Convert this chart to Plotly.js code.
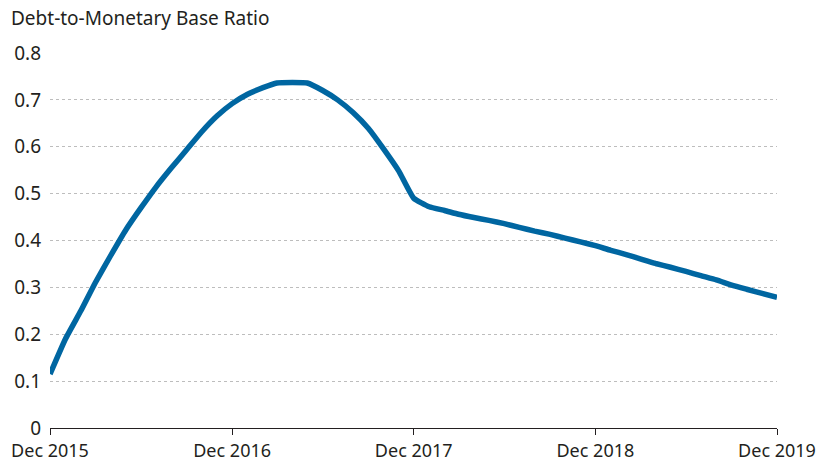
<!DOCTYPE html>
<html>
<head>
<meta charset="utf-8">
<script src="https://cdn.plot.ly/plotly-3.0.1.min.js"></script>
<style>html,body{margin:0;padding:0;background:#fff;}#chart{width:822px;height:461px;}</style>
</head>
<body>
<div id="chart"></div>
<script>
var months = [
  '2015-12-01','2016-01-01','2016-02-01','2016-03-01','2016-04-01','2016-05-01','2016-06-01',
  '2016-07-01','2016-08-01','2016-09-01','2016-10-01','2016-11-01','2016-12-01',
  '2017-01-01','2017-02-01','2017-03-01','2017-04-01','2017-05-01','2017-06-01',
  '2017-07-01','2017-08-01','2017-09-01','2017-10-01','2017-11-01','2017-12-01',
  '2018-01-01','2018-02-01','2018-03-01','2018-04-01','2018-05-01','2018-06-01',
  '2018-07-01','2018-08-01','2018-09-01','2018-10-01','2018-11-01','2018-12-01',
  '2019-01-01','2019-02-01','2019-03-01','2019-04-01','2019-05-01','2019-06-01',
  '2019-07-01','2019-08-01','2019-09-01','2019-10-01','2019-11-01','2019-12-01'
];
var ratio = [
  0.115, 0.190, 0.250, 0.310, 0.368, 0.422, 0.470,
  0.514, 0.555, 0.594, 0.632, 0.666, 0.692,
  0.712, 0.726, 0.736, 0.737, 0.736, 0.720,
  0.700, 0.673, 0.639, 0.596, 0.548, 0.490,
  0.472, 0.464, 0.456, 0.449, 0.443, 0.436,
  0.428, 0.420, 0.413, 0.405, 0.397, 0.389,
  0.379, 0.370, 0.361, 0.351, 0.343, 0.334,
  0.325, 0.316, 0.305, 0.296, 0.287, 0.279
];
var xTickVals = ['2015-12-01','2016-12-01','2017-12-01','2018-12-01','2019-12-01'];
var xTickText = ['Dec 2015','Dec 2016','Dec 2017','Dec 2018','Dec 2019'];
var yTickVals = [0, 0.1, 0.2, 0.3, 0.4, 0.5, 0.6, 0.7, 0.8];
var yTickText = ['0','0.1','0.2','0.3','0.4','0.5','0.6','0.7','0.8'];

var trace = {
  x: months, y: ratio, type: 'scatter', mode: 'lines',
  line: {color: '#0066a1', width: 5.5, shape: 'spline', smoothing: 0.4},
  cliponaxis: false, hoverinfo: 'skip'
};
var font = {family: 'Noto Sans, Open Sans, sans-serif', size: 19, color: '#231f20'};
var xfont = {family: font.family, size: 18, color: '#231f20'};
var layout = {
  width: 822, height: 461,
  margin: {l: 50, r: 45, t: 53, b: 33},
  paper_bgcolor: '#fff', plot_bgcolor: '#fff',
  showlegend: false,
  font: font,
  title: {
    text: 'Debt-to-Monetary Base Ratio',
    xref: 'container', yref: 'container',
    x: 11/822, xanchor: 'left', y: 1 - 18/461, yanchor: 'middle',
    font: {family: font.family, size: 19, color: '#231f20'}
  },
  xaxis: {
    type: 'date', range: ['2015-12-01', '2019-12-01'],
    tickvals: xTickVals, ticktext: xTickText,
    showgrid: false, zeroline: false,
    showline: true, linecolor: '#231f20', linewidth: 1,
    ticks: 'outside', ticklen: 6, tickcolor: '#231f20', tickwidth: 1,
    ticklabelstandoff: 0,
    tickfont: xfont, fixedrange: true
  },
  yaxis: {
    range: [0, 0.8], tickvals: yTickVals, ticktext: yTickText,
    showgrid: true, gridcolor: '#bdbdbd', griddash: 'dot', gridwidth: 1,
    zeroline: false, showline: false, ticks: '',
    ticklabelstandoff: 8,
    tickfont: font, fixedrange: true
  }
};
Plotly.newPlot('chart', [trace], layout, {displayModeBar: false, staticPlot: true});
</script>
</body>
</html>
